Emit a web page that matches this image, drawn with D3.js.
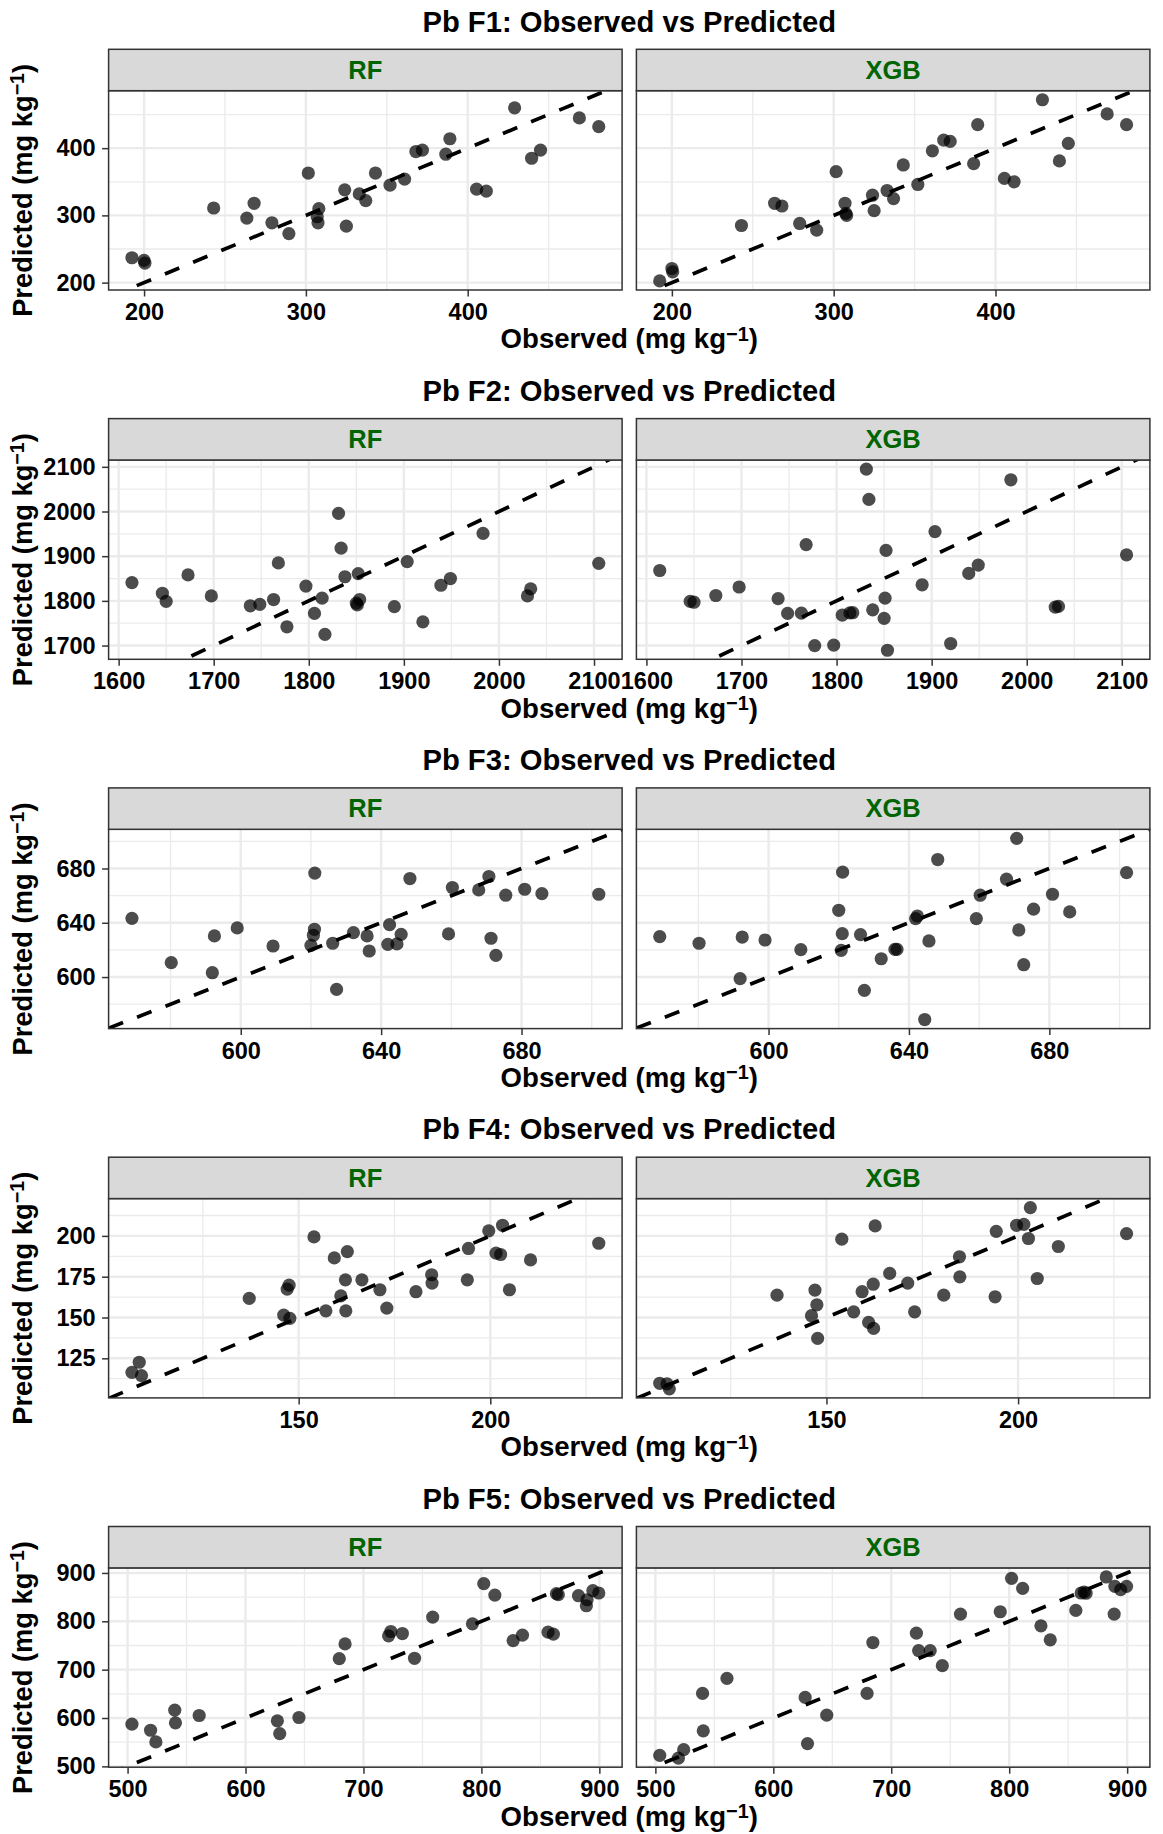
<!DOCTYPE html>
<html><head><meta charset="utf-8">
<script src="https://cdn.jsdelivr.net/npm/d3@7"></script>
<style>
body{margin:0;background:#fff}
svg text{font-family:"Liberation Sans",Arial,Helvetica,sans-serif;font-weight:bold}
</style></head><body>
<svg id="chart" width="1163" height="1834"></svg>
<script>
// ---------- data ----------
const fractionNames = ["F1", "F2", "F3", "F4", "F5"];
const modelNames = ["RF", "XGB"];

const f1Observed = [192.5, 200, 200.5, 243, 263.5, 268, 279, 289.5, 301.5, 307, 307.5, 308, 324, 325, 333, 337, 343, 352, 361, 368, 372, 386.5, 389, 405.5, 411.5, 429, 439.5, 445, 469, 481];
const f1RF = [237, 233, 229, 311, 296, 318, 289, 273, 363, 298, 289, 310, 338, 284, 332, 322, 363, 345, 354, 395, 397, 391, 414, 339, 336, 460, 385, 397, 445, 432];
const f1XGB = [202.5, 221, 216, 285, 318, 314, 288, 278, 365, 318, 303, 300, 330, 307, 337, 325, 375, 346, 396, 412, 410, 377, 435, 355, 350, 472, 381, 407, 451, 435];
const f1XTicks = [200, 300, 400];
const f1YTicks = [200, 300, 400];

const f2Observed = [1614, 1646, 1650, 1673, 1697.5, 1738.5, 1748.5, 1763, 1768, 1777, 1797, 1806, 1814, 1817, 1831.3, 1834, 1838, 1850, 1851, 1852, 1853.5, 1890, 1903.5, 1920, 1939, 1949, 1983.3, 2030, 2033.4, 2105];
const f2RF = [1841, 1817, 1799, 1858, 1811, 1789, 1792, 1803, 1885, 1742, 1833, 1772, 1806, 1725, 1996, 1918, 1854, 1795, 1791, 1861, 1803, 1787, 1888, 1753, 1835, 1850, 1951, 1811, 1827, 1884];
const f2XGB = [1868, 1799, 1797, 1812, 1831, 1805, 1772, 1772.5, 1926, 1700, 1701, 1768, 1773, 1773.5, 2095, 2027, 1780, 1761, 1806, 1913, 1689.5, 1836, 1955, 1704.5, 1861.5, 1880, 2071, 1786, 1787.5, 1903];
const f2XTicks = [1600, 1700, 1800, 1900, 2000, 2100];
const f2YTicks = [1700, 1800, 1900, 2000, 2100];

const f3Observed = [569, 580.2, 591.9, 592.5, 599, 609.2, 620, 620.7, 621, 621.1, 626.2, 627.3, 632.1, 636, 636.6, 641.9, 642.4, 644.5, 645.7, 648.2, 659.2, 660.3, 667.8, 670.7, 671.3, 672.7, 675.5, 680.9, 685.8, 702];
const f3RF = [643.3, 610.6, 603.2, 630.3, 636.2, 622.9, 623.4, 630.8, 635.2, 676.6, 624.9, 590.9, 632.7, 630.3, 619.2, 624.1, 638.6, 624.4, 631.5, 672.6, 631.8, 666, 664.2, 674.1, 628.6, 616, 660.3, 664.7, 661.5, 661];
const f3XGB = [629.8, 624.9, 598.8, 629.5, 627.3, 620.2, 649.2, 619.7, 632, 677.3, 631.3, 590.2, 613.5, 620.4, 620.4, 643.1, 645, 568.7, 626.6, 686.6, 643.1, 660.3, 672.1, 702.2, 634.7, 609.1, 650, 661, 648, 677];
const f3XTicks = [600, 640, 680];
const f3YTicks = [600, 640, 680];

const f4Observed = [106.5, 108.4, 109, 137.1, 146.1, 147, 147.5, 147.7, 154, 157.1, 159.3, 161, 162.2, 162.3, 162.7, 166.5, 171.2, 173, 180.6, 184.7, 184.8, 194.3, 194, 199.6, 201.5, 202.7, 203.2, 205, 210.5, 228.3];
const f4RF = [116.4, 122.6, 114.4, 161.7, 151.5, 167.4, 169.8, 149.5, 199.4, 154.1, 186.5, 163.3, 173.1, 154.1, 190.4, 173.1, 167, 155.8, 165.8, 176.2, 171.1, 192.3, 173.1, 203.1, 189.4, 188.6, 206.5, 167, 185.3, 195.5];
const f4XGB = [109.7, 109.3, 106.3, 163.7, 151.1, 166.8, 157.8, 137.2, 198, 153.5, 165.8, 147, 170.4, 143.3, 206.1, 177, 171.1, 153.5, 163.7, 187.2, 174.9, 202.8, 162.7, 206.5, 207.1, 198.4, 217.3, 173.9, 193.5, 201.4];
const f4XTicks = [150, 200];
const f4YTicks = [125, 150, 175, 200];

const f5Observed = [503.7, 519.5, 524, 540, 540.6, 560.7, 627, 629, 645.3, 679.5, 684.4, 721.3, 723.2, 733, 743.3, 758.7, 792.4, 802, 811.4, 826.9, 834.8, 856.5, 861, 863.6, 865.2, 882.3, 889, 889.6, 894.5, 899.5];
const f5RF = [587.2, 574.7, 550.5, 616.3, 590, 605.2, 594.1, 567.8, 601, 722.8, 753.3, 769.9, 778.9, 774.7, 723.5, 808.7, 794.8, 877.9, 854.3, 760.2, 771.3, 777.5, 773.4, 857.1, 855, 852.9, 832.2, 844.6, 863.3, 858.5];
const f5XGB = [522.8, 517, 534.6, 650.9, 573.4, 682, 642.6, 547.1, 605.9, 650.9, 756.1, 775.4, 739.4, 739.4, 708.3, 814.9, 819.7, 888.9, 868.2, 790.7, 761.6, 822.5, 858.5, 860.6, 858, 891.7, 814.9, 872.3, 865.4, 872.3];
const f5XTicks = [500, 600, 700, 800, 900];
const f5YTicks = [500, 600, 700, 800, 900];

// ---------- table built from arrays ----------
const observedSets = [f1Observed, f2Observed, f3Observed, f4Observed, f5Observed];
const rfSets = [f1RF, f2RF, f3RF, f4RF, f5RF];
const xgbSets = [f1XGB, f2XGB, f3XGB, f4XGB, f5XGB];
const xTickSets = [f1XTicks, f2XTicks, f3XTicks, f4XTicks, f5XTicks];
const yTickSets = [f1YTicks, f2YTicks, f3YTicks, f4YTicks, f5YTicks];

// ---------- layout ----------
const panelLefts = [108.6, 636.4];
const panelW = 513.5;
const rowPitch = 369.3;
const stripTop0 = 49.3;
const stripH = 41.4;
const plotH = 199.3;
const centerX = (panelLefts[0] + panelLefts[1] + panelW) / 2;
const tickFont = 23.5;

const svg = d3.select("#chart");
svg.append("rect").attr("width", 1163).attr("height", 1834).attr("fill", "#fff");

function expand(ext) { const s = ext[1] - ext[0]; return [ext[0] - 0.05 * s, ext[1] + 0.05 * s]; }
function minorOf(ticks, domain) {
  const step = ticks[1] - ticks[0];
  const out = [];
  for (let v = ticks[0] - step / 2; v <= domain[1]; v += step) {
    if (v >= domain[0] && v <= domain[1]) out.push(v);
  }
  return out;
}
function unitLabel(sel, prefix) {
  sel.append("tspan").text(prefix + " (mg kg");
  sel.append("tspan").attr("font-size", "0.72em").attr("dy", -7.5).text("\u22121");
  sel.append("tspan").attr("dy", 7.5).text(")");
}

fractionNames.forEach((fname, i) => {
  const obs = observedSets[i];
  const preds = [rfSets[i], xgbSets[i]];
  const stripTop = stripTop0 + i * rowPitch;
  const plotTop = stripTop + stripH;
  const plotBottom = plotTop + plotH;

  const xDomain = expand(d3.extent(obs));
  const yDomain = expand(d3.extent(preds[0].concat(preds[1])));
  const x = d3.scaleLinear().domain(xDomain).range([0, panelW]);
  const y = d3.scaleLinear().domain(yDomain).range([plotH, 0]);
  const xTicks = xTickSets[i], yTicks = yTickSets[i];
  const xMinor = minorOf(xTicks, xDomain), yMinor = minorOf(yTicks, yDomain);

  // title
  svg.append("text").attr("x", centerX).attr("y", stripTop - 17.8)
    .attr("text-anchor", "middle").attr("font-size", 29.2).attr("fill", "#000")
    .text(`Pb ${fname}: Observed vs Predicted`);

  modelNames.forEach((m, j) => {
    const g = svg.append("g").attr("transform", `translate(${panelLefts[j]},${plotTop})`);
    g.append("rect").attr("width", panelW).attr("height", plotH).attr("fill", "#fff");

    // grid
    const grid = g.append("g").attr("stroke", "#EBEBEB").attr("fill", "none");
    grid.selectAll(".vmin").data(xMinor).enter().append("line")
      .attr("x1", d => x(d)).attr("x2", d => x(d)).attr("y1", 0).attr("y2", plotH).attr("stroke-width", 1.3);
    grid.selectAll(".hmin").data(yMinor).enter().append("line")
      .attr("y1", d => y(d)).attr("y2", d => y(d)).attr("x1", 0).attr("x2", panelW).attr("stroke-width", 1.3);
    grid.selectAll(".vmaj").data(xTicks).enter().append("line")
      .attr("x1", d => x(d)).attr("x2", d => x(d)).attr("y1", 0).attr("y2", plotH).attr("stroke-width", 2.4);
    grid.selectAll(".hmaj").data(yTicks).enter().append("line")
      .attr("y1", d => y(d)).attr("y2", d => y(d)).attr("x1", 0).attr("x2", panelW).attr("stroke-width", 2.4);

    // clip + 1:1 line
    const clipId = `clip-${i}-${j}`;
    g.append("clipPath").attr("id", clipId).append("rect").attr("width", panelW).attr("height", plotH);
    const inner = g.append("g").attr("clip-path", `url(#${clipId})`);
    inner.append("line")
      .attr("x1", x(xDomain[0])).attr("y1", y(xDomain[0]))
      .attr("x2", x(xDomain[1])).attr("y2", y(xDomain[1]))
      .attr("stroke", "#000").attr("stroke-width", 3.7).attr("stroke-dasharray", "15.5,15");

    // points
    const pts = obs.map((o, k) => ({ o, p: preds[j][k] }));
    inner.selectAll("circle").data(pts).enter().append("circle")
      .attr("cx", d => x(d.o)).attr("cy", d => y(d.p)).attr("r", 6.6)
      .attr("fill", "#000").attr("fill-opacity", 0.7);

    // border
    g.append("rect").attr("width", panelW).attr("height", plotH)
      .attr("fill", "none").attr("stroke", "#333").attr("stroke-width", 1.5);

    // strip
    g.append("rect").attr("y", -stripH).attr("width", panelW).attr("height", stripH)
      .attr("fill", "#D9D9D9").attr("stroke", "#333").attr("stroke-width", 1.5);
    g.append("text").attr("x", panelW / 2).attr("y", -stripH / 2 + 8.8)
      .attr("text-anchor", "middle").attr("font-size", 25.5).attr("fill", "#006400").text(m);

    // x axis
    const xa = g.append("g").attr("transform", `translate(0,${plotH})`)
      .call(d3.axisBottom(x).tickValues(xTicks).tickSize(6.5).tickPadding(6.8).tickFormat(d3.format("d")));
    xa.select(".domain").remove();
    xa.attr("font-size", tickFont);
    xa.selectAll(".tick line").attr("stroke", "#333").attr("stroke-width", 1.5);
    xa.selectAll(".tick text").attr("fill", "#000");

    if (j === 0) {
      const ya = g.append("g")
        .call(d3.axisLeft(y).tickValues(yTicks).tickSize(6.5).tickPadding(6.5).tickFormat(d3.format("d")));
      ya.select(".domain").remove();
      ya.attr("font-size", tickFont);
      ya.selectAll(".tick line").attr("stroke", "#333").attr("stroke-width", 1.5);
      ya.selectAll(".tick text").attr("fill", "#000");
    }
  });

  // axis titles
  const xt = svg.append("text").attr("x", centerX).attr("y", plotBottom + 58.3)
    .attr("text-anchor", "middle").attr("font-size", 27.6).attr("fill", "#000");
  unitLabel(xt, "Observed");
  const yt = svg.append("text")
    .attr("transform", `translate(31.5,${(plotTop + plotBottom) / 2}) rotate(-90)`)
    .attr("text-anchor", "middle").attr("font-size", 27.3).attr("fill", "#000");
  unitLabel(yt, "Predicted");
});
</script>
</body></html>
